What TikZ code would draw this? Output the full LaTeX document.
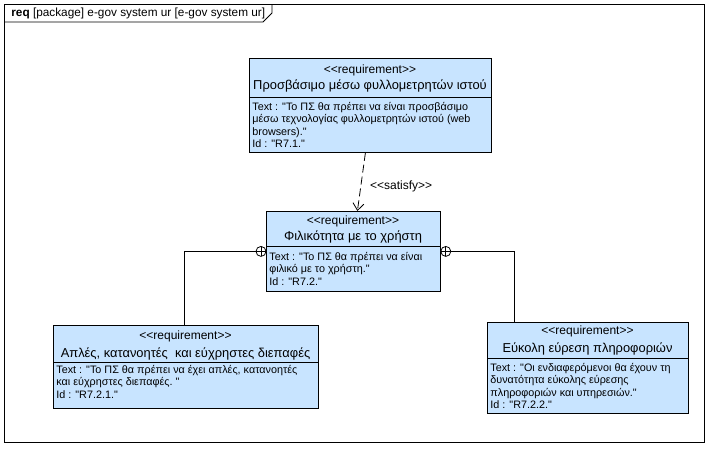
\documentclass[tikz,border=0pt]{standalone}
\usepackage{fontspec}
\setmainfont{Liberation Sans}[Ligatures=TeXOff]
\usetikzlibrary{arrows.meta,positioning}
\definecolor{reqfill}{RGB}{200,228,255}
\newcommand{\stereo}[1]{<<#1>>}

\begin{document}
\begin{tikzpicture}[x=1pt, y=-1pt, line width=0.8pt,
  req/.style={draw, fill=reqfill, anchor=north west, inner sep=0pt},
  stype/.style={font=\fontsize{12}{13}\selectfont, inner sep=0pt},
  rname/.style={font=\fontsize{12.9}{14}\selectfont, inner sep=0pt},
  attr/.style={font=\fontsize{10.8}{12.3}\selectfont, align=left,
               anchor=north west, inner sep=0pt},
  cplus/.style={draw, circle, fill=white, minimum size=10pt, inner sep=0pt,
    path picture={\draw (path picture bounding box.north) -- (path picture bounding box.south)
      (path picture bounding box.west) -- (path picture bounding box.east);}}]
  \useasboundingbox (0,0) rectangle (708,448);

  % frame
  \draw (4,4) rectangle (704,442);
  \draw (4,22) -- (263,22) -- (272,13) -- (272,4);
  \node[anchor=west, inner sep=0pt, font=\fontsize{11.8}{13}\selectfont] (title) at (11,13.5)
    {\textbf{req} [package] e-gov system ur [e-gov system ur]};

  % requirements
  \node[req, minimum width=242pt, minimum height=94pt] (acc) at (249,58) {};
  \node[stype] (acc-st) at (370,70) {\stereo{requirement}};
  \node[rname] (acc-nm) at (370,86) {Προσβάσιμο μέσω φυλλομετρητών ιστού};
  \draw (249,97) -- (491,97);
  \node[attr] (acc-at) at (252,102) {Text : "Το ΠΣ θα πρέπει να είναι προσβάσιμο\\
    μέσω τεχνολογίας φυλλομετρητών ιστού (web\\browsers)."\\Id : "R7.1."};

  \node[req, minimum width=174pt, minimum height=80pt] (usr) at (266,211) {};
  \node[stype] (usr-st) at (353,221) {\stereo{requirement}};
  \node[rname] (usr-nm) at (353,237) {Φιλικότητα με το χρήστη};
  \draw (266,246) -- (440,246);
  \node[attr] (usr-at) at (269,252) {Text : "Το ΠΣ θα πρέπει να είναι\\
    φιλικό με το χρήστη."\\Id : "R7.2."};

  \node[req, minimum width=265pt, minimum height=83pt] (ui) at (53,325) {};
  \node[stype] (ui-st) at (185.5,336) {\stereo{requirement}};
  \node[rname] (ui-nm) at (185.5,354) {Απλές, κατανοητές~ και εύχρηστες διεπαφές};
  \draw (53,362) -- (318,362);
  \node[attr] (ui-at) at (56,365) {Text : "Το ΠΣ θα πρέπει να έχει απλές, κατανοητές\\
    και εύχρηστες διεπαφές.~"\\Id : "R7.2.1."};

  \node[req, minimum width=201pt, minimum height=91pt] (inf) at (487,322) {};
  \node[stype] (inf-st) at (587.5,331) {\stereo{requirement}};
  \node[rname] (inf-nm) at (587.5,349) {Εύκολη εύρεση πληροφοριών};
  \draw (487,358) -- (688,358);
  \node[attr] (inf-at) at (490,363) {Text : "Οι ενδιαφερόμενοι θα έχουν τη\\
    δυνατότητα εύκολης εύρεσης\\πληροφοριών και υπηρεσιών."\\Id : "R7.2.2."};

  % satisfy
  \draw[dash pattern=on 8pt off 4pt, -{Straight Barb[length=7pt, width=11pt]}]
    ([xshift=-5pt]acc.south) -- ([xshift=4pt]usr.north)
    node[pos=0.58, right=9pt, stype]{\stereo{satisfy}};

  % containment
  \node[cplus] (cpl) at ([xshift=-5pt]usr.west) {};
  \node[cplus] (cpr) at ([xshift=5pt]usr.east) {};
  \draw (cpl.west) -| ([xshift=-1.5pt]ui.north);
  \draw (cpr.east) -| ([xshift=-73.5pt]inf.north);
\end{tikzpicture}
\end{document}
